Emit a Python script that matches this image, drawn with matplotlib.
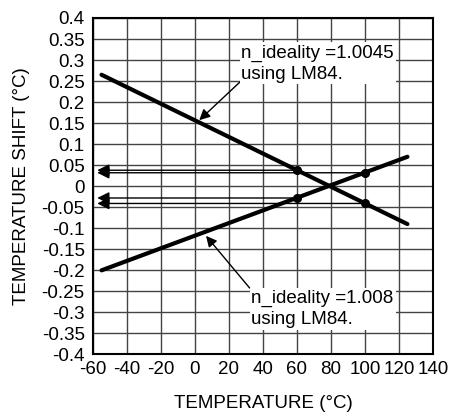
import matplotlib
matplotlib.use("Agg")
import matplotlib.pyplot as plt
import numpy as np

plt.rcParams['font.family'] = ['Liberation Sans', 'DejaVu Sans']

# line endpoints
temp_range = [-55, 125]
shift_n10045 = [0.265, -0.09]
shift_n1008 = [-0.2, 0.07]

# marked points (temperature, shift) with horizontal arrows to the axis
mark_temps = [60, 100]
mark_n10045 = [0.038, -0.041]
mark_n1008 = [-0.028, 0.032]

xticks = np.arange(-60, 141, 20)
yticks = np.round(np.arange(-0.4, 0.401, 0.05), 2)

FS = 13.5

fig = plt.figure(figsize=(4.52, 4.18), dpi=100)
ax = fig.add_axes([0.2058, 0.152, 0.752, 0.805])

ax.set_xlim(-60, 140)
ax.set_ylim(-0.4, 0.4)
ax.set_xticks(xticks)
ax.set_yticks(yticks)
ax.set_xticklabels([str(t) for t in xticks])
ax.set_yticklabels(['0' if abs(t) < 1e-9 else f'{t:g}' for t in yticks])
ax.grid(True, color='#444444', linewidth=1.0)
ax.set_axisbelow(True)
ax.tick_params(axis='x', length=0, labelsize=FS, pad=5)
ax.tick_params(axis='y', length=0, labelsize=FS, pad=6)
for s in ax.spines.values():
    s.set_linewidth(1.5)

ax.plot(temp_range, shift_n10045, color='black', linewidth=3, solid_capstyle='round', zorder=3)
ax.plot(temp_range, shift_n1008, color='black', linewidth=3, solid_capstyle='round', zorder=3)

for vals in (mark_n10045, mark_n1008):
    for t, v in zip(mark_temps, vals):
        ax.plot([t], [v], 'o', color='black', markersize=5.5, zorder=4)
        ax.annotate('', xy=(-57.5, v), xytext=(t, v),
                    arrowprops=dict(arrowstyle='-|>', color='black', lw=1.0,
                                    mutation_scale=18, shrinkA=0, shrinkB=0),
                    zorder=2)

ax.annotate('n_ideality =1.0045\nusing LM84.', xy=(2.5, 0.157), xytext=(27.3, 0.337),
            fontsize=FS, ha='left', va='top', linespacing=1.3,
            bbox=dict(boxstyle='square,pad=0.1', fc='white', ec='none'),
            arrowprops=dict(arrowstyle='-|>', color='black', lw=1.0,
                            mutation_scale=16, shrinkA=0, shrinkB=0,
                            relpos=(0, 0.05)), zorder=5)
ax.annotate('n_ideality =1.008\nusing LM84.', xy=(6.5, -0.118), xytext=(33.2, -0.247),
            fontsize=FS, ha='left', va='top', linespacing=1.3,
            bbox=dict(boxstyle='square,pad=0.1', fc='white', ec='none'),
            arrowprops=dict(arrowstyle='-|>', color='black', lw=1.0,
                            mutation_scale=16, shrinkA=0, shrinkB=0,
                            relpos=(0, 1)), zorder=5)

ax.set_xlabel('TEMPERATURE (°C)', fontsize=FS)
ax.set_ylabel('TEMPERATURE SHIFT (°C)', fontsize=FS)
ax.xaxis.set_label_coords(0.5, -0.12)
ax.yaxis.set_label_coords(-0.185, 0.5)

fig.savefig('out.png', dpi=100)
